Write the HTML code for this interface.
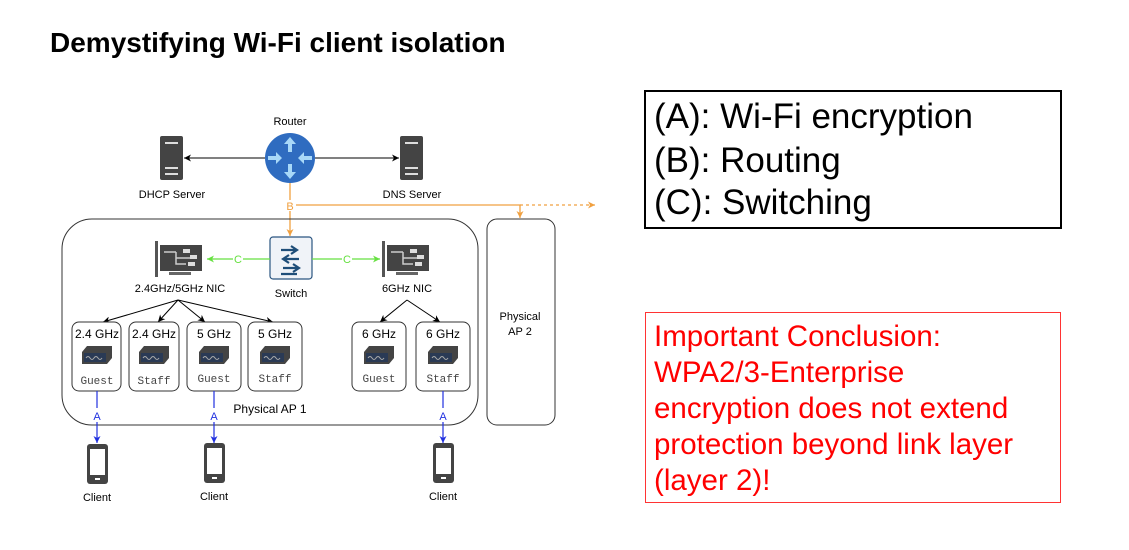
<!DOCTYPE html>
<html><head><style>
body{margin:0;background:#fff;width:1129px;height:545px;overflow:hidden;font-family:"Liberation Sans",Arial,sans-serif}
</style></head><body>
<svg width="1129" height="545" xmlns="http://www.w3.org/2000/svg" font-family="Liberation Sans, Arial, sans-serif">
<defs>
<marker id="ak" markerWidth="8" markerHeight="8" refX="7" refY="4" orient="auto" markerUnits="userSpaceOnUse"><path d="M0,0.5 L7,4 L0,7.5 L2,4z" fill="#000"/></marker>
<marker id="ao" markerWidth="8" markerHeight="8" refX="7" refY="4" orient="auto" markerUnits="userSpaceOnUse"><path d="M0,0.5 L7,4 L0,7.5 L2,4z" fill="#f0a040"/></marker>
<marker id="ag" markerWidth="8" markerHeight="8" refX="7" refY="4" orient="auto" markerUnits="userSpaceOnUse"><path d="M0,0.5 L7,4 L0,7.5 L2,4z" fill="#66e040"/></marker>
<marker id="ab" markerWidth="8" markerHeight="8" refX="7" refY="4" orient="auto" markerUnits="userSpaceOnUse"><path d="M0,0.5 L7,4 L0,7.5 L2,4z" fill="#2030e0"/></marker>
<g id="srv"><rect x="0" y="0" width="23" height="44" rx="2" fill="#444"/><rect x="5" y="6" width="13" height="2" fill="#ddd"/><rect x="5" y="31" width="13" height="2" fill="#ddd"/><rect x="5" y="37" width="13" height="2" fill="#ddd"/></g>
<g id="nic"><path d="M0,0 h3 v36 h-3z" fill="#555"/><rect x="5" y="4" width="42" height="26" fill="#444"/><rect x="14" y="31" width="22" height="3" fill="#666"/><path d="M9,11 h12 M21,11 v12 h8 M21,17 h14 M21,23 h10" stroke="#ccc" stroke-width="1.5" fill="none"/><rect x="28" y="8" width="7" height="4" fill="#ddd"/><rect x="35" y="14" width="7" height="4" fill="#ddd"/><rect x="33" y="21" width="7" height="4" fill="#ddd"/></g>
<g id="ap"><path d="M0,6 L5,0 H30 V12 L25,18 H0z" fill="#444"/><rect x="2" y="7" width="22" height="9" fill="#2a3a55"/><path d="M4,12 q2,-3 4,0 t4,0 t4,0 t4,0" stroke="#aaa" fill="none" stroke-width="1"/></g>
<g id="ph"><rect x="0" y="0" width="21" height="40" rx="3" fill="#444"/><rect x="3" y="5" width="15" height="26" fill="#fff"/><rect x="8" y="34" width="5" height="2" fill="#fff"/></g>
</defs>
<text x="50" y="52" font-size="28" font-weight="bold" fill="#000">Demystifying Wi-Fi client isolation</text>

<text x="290" y="125" font-size="11" text-anchor="middle">Router</text>
<circle cx="290" cy="158" r="25" fill="#2f6cc0"/>
<path d="M290,137 l-6,7 h4 v8 h4 v-8 h4z M290,179 l-6,-7 h4 v-8 h4 v8 h4z M268,156 h8 v-4 l6,6 -6,6 v-4 h-8z M312,156 h-8 v-4 l-6,6 6,6 v-4 h8z" fill="#a8d8f8"/>
<use href="#srv" x="160" y="136"/><use href="#srv" x="400" y="136"/>
<line x1="265" y1="158" x2="184" y2="158" stroke="#000" marker-end="url(#ak)"/>
<line x1="315" y1="158" x2="399" y2="158" stroke="#000" marker-end="url(#ak)"/>
<text x="172" y="198" font-size="11" text-anchor="middle">DHCP Server</text>
<text x="412" y="198" font-size="11" text-anchor="middle">DNS Server</text>

<line x1="290" y1="183" x2="290" y2="200" stroke="#f0a040" stroke-width="1.3"/>
<line x1="290" y1="211" x2="290" y2="236" stroke="#f0a040" stroke-width="1.3" marker-end="url(#ao)"/>
<text x="290" y="210" font-size="11" fill="#f0a040" text-anchor="middle">B</text>
<path d="M296,205 H520 V218" stroke="#f0a040" stroke-width="1.3" fill="none" marker-end="url(#ao)"/>
<line x1="520" y1="205" x2="595" y2="205" stroke="#f0a040" stroke-width="1.3" stroke-dasharray="3,3" marker-end="url(#ao)"/>

<rect x="62" y="219" width="416" height="206" rx="30" fill="none" stroke="#333" stroke-width="1"/>
<rect x="487" y="219" width="68" height="206" rx="10" fill="none" stroke="#333" stroke-width="1"/>
<text x="520" y="320" font-size="11" text-anchor="middle">Physical</text>
<text x="520" y="335" font-size="11" text-anchor="middle">AP 2</text>

<rect x="270" y="237" width="42" height="42" rx="3" fill="#f0f3f8" stroke="#2a5580" stroke-width="1.2"/>
<path d="M281,250 h16 M291,246 l6,4 -6,4 M299,259 h-16 M289,255 l-6,4 6,4 M283,268 h16 M293,264 l6,4 -6,4 M297,274 h-16" stroke="#1f4e79" stroke-width="2.2" fill="none"/>
<text x="291" y="297" font-size="11" text-anchor="middle">Switch</text>
<use href="#nic" x="155" y="241"/><use href="#nic" x="382" y="241"/>
<line x1="270" y1="259" x2="243" y2="259" stroke="#66e040" stroke-width="1.3"/>
<line x1="233" y1="259" x2="207" y2="259" stroke="#66e040" stroke-width="1.3" marker-end="url(#ag)"/>
<text x="238" y="263" font-size="11" fill="#66e040" text-anchor="middle">C</text>
<line x1="312" y1="259" x2="342" y2="259" stroke="#66e040" stroke-width="1.3"/>
<line x1="352" y1="259" x2="380" y2="259" stroke="#66e040" stroke-width="1.3" marker-end="url(#ag)"/>
<text x="347" y="263" font-size="11" fill="#66e040" text-anchor="middle">C</text>
<text x="180" y="292" font-size="11" text-anchor="middle">2.4GHz/5GHz NIC</text>
<text x="407" y="292" font-size="11" text-anchor="middle">6GHz NIC</text>

<g stroke="#000" fill="none" marker-end="url(#ak)">
<line x1="178" y1="300" x2="103" y2="322"/><line x1="178" y1="300" x2="158" y2="322"/><line x1="178" y1="300" x2="205" y2="322"/><line x1="178" y1="300" x2="273" y2="322"/>
<line x1="407" y1="300" x2="380" y2="322"/><line x1="407" y1="300" x2="440" y2="322"/>
</g>
<g fill="#fff" stroke="#333">
<rect x="72" y="322" width="49" height="69" rx="7"/><rect x="129" y="322" width="50" height="69" rx="7"/>
<rect x="187" y="322" width="54" height="69" rx="7"/><rect x="248" y="322" width="54" height="69" rx="7"/>
<rect x="352" y="322" width="54" height="69" rx="7"/><rect x="416" y="322" width="54" height="69" rx="7"/>
</g>
<g font-size="12" text-anchor="middle">
<text x="97" y="338">2.4 GHz</text><text x="154" y="338">2.4 GHz</text><text x="214" y="338">5 GHz</text><text x="275" y="338">5 GHz</text><text x="379" y="338">6 GHz</text><text x="443" y="338">6 GHz</text>
</g>
<use href="#ap" x="82" y="346"/><use href="#ap" x="139" y="346"/><use href="#ap" x="199" y="346"/><use href="#ap" x="260" y="346"/><use href="#ap" x="364" y="346"/><use href="#ap" x="428" y="346"/>
<g font-size="11" text-anchor="middle" font-family="Liberation Mono, monospace" fill="#444">
<text x="97" y="384">Guest</text><text x="154" y="384">Staff</text><text x="214" y="382">Guest</text><text x="275" y="382">Staff</text><text x="379" y="382">Guest</text><text x="443" y="382">Staff</text>
</g>
<text x="270" y="413" font-size="12" text-anchor="middle">Physical AP 1</text>

<g stroke="#2030e0" stroke-width="1.2">
<line x1="97" y1="391" x2="97" y2="408"/><line x1="97" y1="422" x2="97" y2="443" marker-end="url(#ab)"/>
<line x1="214" y1="391" x2="214" y2="408"/><line x1="214" y1="422" x2="214" y2="443" marker-end="url(#ab)"/>
<line x1="443" y1="391" x2="443" y2="408"/><line x1="443" y1="422" x2="443" y2="443" marker-end="url(#ab)"/>
</g>
<g font-size="11" fill="#2030e0" text-anchor="middle"><text x="97" y="420">A</text><text x="214" y="420">A</text><text x="443" y="420">A</text></g>
<use href="#ph" x="87" y="444"/><use href="#ph" x="204" y="443"/><use href="#ph" x="433" y="443"/>
<g font-size="11" text-anchor="middle"><text x="97" y="501">Client</text><text x="214" y="500">Client</text><text x="443" y="500">Client</text></g>

<rect x="645" y="91" width="416" height="137" fill="none" stroke="#000" stroke-width="2"/>
<g font-size="35" fill="#000"><text x="654" y="128">(A): Wi-Fi encryption</text><text x="654" y="172">(B): Routing</text><text x="654" y="214">(C): Switching</text></g>
<rect x="645.5" y="312.5" width="415" height="190" fill="none" stroke="#f33" stroke-width="1"/>
<g font-size="29.5" fill="#f00"><text x="654" y="346">Important Conclusion:</text><text x="654" y="382">WPA2/3-Enterprise</text><text x="654" y="418">encryption does not extend</text><text x="654" y="454">protection beyond link layer</text><text x="654" y="490">(layer 2)!</text></g>
</svg>
</body></html>
